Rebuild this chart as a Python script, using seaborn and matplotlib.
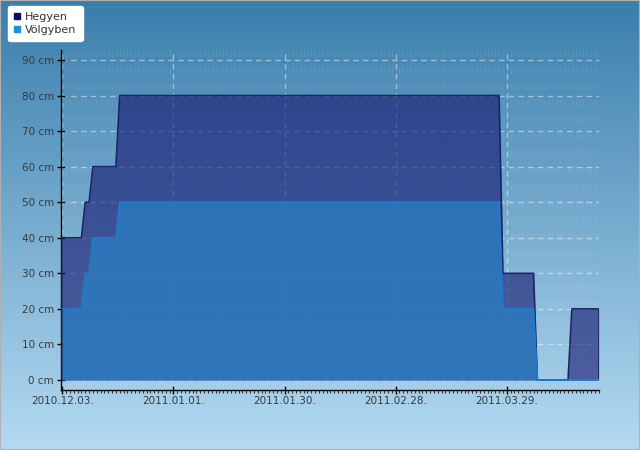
import numpy as np
import pandas as pd
import seaborn as sns
import matplotlib.pyplot as plt
import matplotlib.dates as mdates
from matplotlib.colors import LinearSegmentedColormap
from matplotlib.lines import Line2D

# data (plateau start/end days)
dates = pd.to_datetime(["2010-12-03", "2010-12-08", "2010-12-09", "2010-12-10",
                        "2010-12-11", "2010-12-17", "2010-12-18", "2011-03-27",
                        "2011-03-28", "2011-04-05", "2011-04-06", "2011-04-14",
                        "2011-04-15", "2011-04-22"])
hegyen = [40, 40, 50, 50, 60, 60, 80, 80, 30, 30, 0, 0, 20, 20]
volgyben = [20, 20, 30, 30, 40, 40, 50, 50, 20, 20, 0, 0, 0, 0]

tick_dates = pd.to_datetime(["2010-12-03", "2011-01-01", "2011-01-30", "2011-02-28", "2011-03-29"])
y_ticks = [0, 10, 20, 30, 40, 50, 60, 70, 80, 90]

df = pd.DataFrame({"date": dates, "Hegyen": hegyen, "Völgyben": volgyben})

sns.set_style("ticks")
plt.rcParams["font.family"] = ["DejaVu Sans"]

fig = plt.figure(figsize=(6.4, 4.5), dpi=100)

# gradient background
bg = fig.add_axes([0, 0, 1, 1], zorder=-10)
cmap = LinearSegmentedColormap.from_list("bg", ["#3a7eac", "#b4daf2"])
bg.imshow(np.linspace(0, 1, 256).reshape(-1, 1), aspect="auto", cmap=cmap, extent=[0, 1, 0, 1])
bg.set_axis_off()
fig.patches.append(plt.Rectangle((0, 0), 1, 1, transform=fig.transFigure,
                                 fill=False, edgecolor="#b0b0b0", linewidth=1.5))

ax = fig.add_axes([61 / 640, 1 - 390 / 450, 538 / 640, 340 / 450])
ax.set_facecolor("none")

c_heg, c_heg_line = "#14146e", "#1c2466"
c_vol, c_vol_line = "#2a7cc0", "#1f7ccc"

ax.fill_between(df["date"], 0, df["Hegyen"], color=c_heg, alpha=0.6, linewidth=0, zorder=2)
sns.lineplot(data=df, x="date", y="Hegyen", color=c_heg_line, linewidth=1.2, ax=ax, zorder=3)
ax.fill_between(df["date"], 0, df["Völgyben"], color=c_vol, alpha=0.8, linewidth=0, zorder=4)
sns.lineplot(data=df, x="date", y="Völgyben", color=c_vol_line, linewidth=1.2, ax=ax, zorder=5)
ax.plot([dates[0], dates[0]], [0, hegyen[0]], color=c_heg_line, linewidth=1.2, zorder=3)
ax.plot([dates[-1], dates[-1]], [0, hegyen[-1]], color=c_heg_line, linewidth=1.2, zorder=3)

ax.set_xlim(dates[0] - pd.Timedelta(hours=8), dates[-1] + pd.Timedelta(hours=2))
ax.set_ylim(-2.8, 92.8)

ax.set_xticks(tick_dates)
ax.set_xticklabels([d.strftime("%Y.%m.%d.") for d in tick_dates])
ax.xaxis.set_minor_locator(mdates.DayLocator())
ax.set_yticks(y_ticks)
ax.set_yticklabels([f"{v} cm" for v in y_ticks])

ax.grid(axis="y", which="major", color="white", alpha=0.45, linestyle=(0, (4, 3)), linewidth=1, zorder=1)
ax.grid(axis="x", which="major", color="white", alpha=0.45, linestyle=(0, (4, 3)), linewidth=1, zorder=1)
ax.grid(axis="x", which="minor", color="white", alpha=0.07, linestyle=(0, (5, 7)), linewidth=1, zorder=1)
ax.set_axisbelow(True)

for s in ["top", "right"]:
    ax.spines[s].set_visible(False)
for s in ["left", "bottom"]:
    ax.spines[s].set_color("black")
    ax.spines[s].set_linewidth(1)
ax.tick_params(axis="both", which="major", direction="inout", length=6, width=1,
               color="black", labelsize=7.5, labelcolor="#3a3a3a")
ax.tick_params(axis="x", which="minor", direction="out", length=2, width=0.8, color="#333333")
ax.tick_params(axis="x", pad=1)
ax.tick_params(axis="y", pad=2)
ax.set_xlabel("")
ax.set_ylabel("")

handles = [Line2D([], [], marker="s", linestyle="none", markersize=5, color="#0c0c5c", label="Hegyen"),
           Line2D([], [], marker="s", linestyle="none", markersize=5, color="#1a90e0", label="Völgyben")]
leg = fig.legend(handles=handles, loc="upper left", bbox_to_anchor=(8 / 640, 1 - 6 / 450),
                 fontsize=8, frameon=True, fancybox=True, facecolor="white", edgecolor="white",
                 framealpha=1, handlelength=0.6, handletextpad=0.4, borderpad=0.55,
                 labelspacing=0.25, borderaxespad=0)
for t in leg.get_texts():
    t.set_color("#333333")

fig.savefig("out.png", dpi=100)
